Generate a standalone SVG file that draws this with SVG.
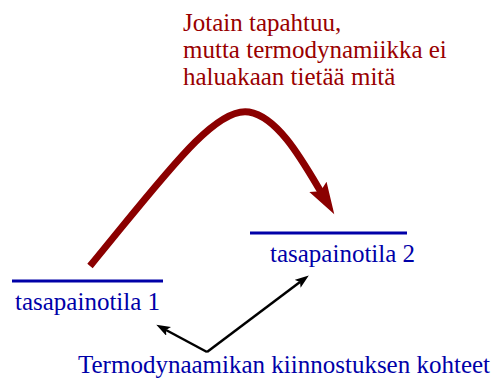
<svg xmlns="http://www.w3.org/2000/svg" width="495" height="378" viewBox="0 0 495 378">
<style>
text{font-family:"Liberation Serif","Times New Roman",serif;font-size:25px}
.note{fill:#990000}
.lbl{fill:#0000a8}
.level{stroke:#0000a8;stroke-width:3;fill:none}
.ptr{stroke:#000;stroke-width:2.5;fill:none;marker-end:url(#ah)}
</style>
<defs>
<marker id="ah" markerUnits="userSpaceOnUse" markerWidth="16" markerHeight="12" refX="3" refY="5" orient="auto">
<path d="M0,0 L14,5 L0,10 L3,5 z" fill="#000"/>
</marker>
<marker id="ahr" markerUnits="userSpaceOnUse" markerWidth="34" markerHeight="22" refX="6" refY="10" orient="auto">
<path d="M0,0 L32,10 L0,20 L5,10 z" fill="#8b0000"/>
</marker>
</defs>
<g id="note">
<text class="note" x="183" y="31">Jotain tapahtuu,</text>
<text class="note" x="183" y="58">mutta termodynamiikka ei</text>
<text class="note" x="183" y="85">haluakaan tietää mitä</text>
</g>
<g id="state1">
<line class="level" x1="12" y1="281" x2="163" y2="281"/>
<text class="lbl" x="15" y="310">tasapainotila 1</text>
</g>
<g id="state2">
<line class="level" x1="250" y1="233" x2="407" y2="233"/>
<text class="lbl" x="270" y="262">tasapainotila 2</text>
</g>
<g id="caption">
<text class="lbl" x="78" y="373">Termodynaamikan kiinnostuksen kohteet</text>
</g>
<g id="connectors">
<path d="M90,266 C165,175 215,106 249,112 C278,117 302,160 321,192" stroke="#8b0000" stroke-width="7" fill="none" marker-end="url(#ahr)"/>
<line class="ptr" x1="207" y1="352" x2="166" y2="330"/>
<line class="ptr" x1="207" y1="352" x2="300" y2="282"/>
</g>
</svg>
